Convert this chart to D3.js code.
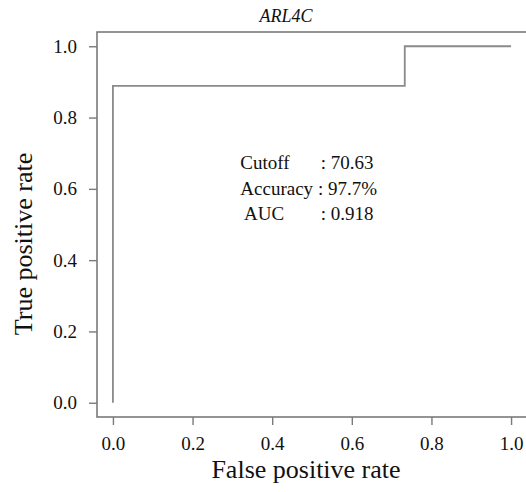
<!DOCTYPE html>
<html>
<head>
<meta charset="utf-8">
<script src="https://cdn.jsdelivr.net/npm/d3@7"></script>
<style>
  body { margin: 0; background: #fff; }
  svg text { font-family: "Liberation Serif", "Times New Roman", serif; fill: #111; }
</style>
</head>
<body>
<div id="vis"></div>
<script>
const width = 526;
const height = 492;

// ROC curve (step function)
const fpr = [0, 0, 0.733, 0.733, 1];
const tpr = [0, 0.889, 0.889, 1, 1];

const xTicks = [0, 0.2, 0.4, 0.6, 0.8, 1.0];
const yTicks = [0, 0.2, 0.4, 0.6, 0.8, 1.0];

const annoLabels = ["Cutoff", "Accuracy", " AUC"];
const annoValues = [": 70.63", ": 97.7%", ": 0.918"];

const svg = d3
  .select("#vis")
  .append("svg")
  .attr("width", width)
  .attr("height", height);

// R-style plot region: data range padded by 4%
const x = d3.scaleLinear().domain([-0.04, 1.04]).range([97, 527]);
const y = d3.scaleLinear().domain([-0.04, 1.04]).range([417, 32]);

// box
svg
  .append("rect")
  .attr("x", x(-0.04))
  .attr("y", y(1.04))
  .attr("width", x(1.04) - x(-0.04))
  .attr("height", y(-0.04) - y(1.04))
  .attr("fill", "none")
  .attr("stroke", "#7a7a7a")
  .attr("stroke-width", 1.6);

function styleAxis(g) {
  g.attr("font-family", null).attr("font-size", null);
  g.select(".domain").remove();
  g.selectAll("line").attr("stroke", "#7a7a7a").attr("stroke-width", 1.4);
  g.selectAll("text")
    .attr("fill", "#111")
    .style("font-family", '"Liberation Serif", serif')
    .style("font-size", "19px");
}

// x axis
const xAxis = d3
  .axisBottom(x)
  .tickValues(xTicks)
  .tickSize(8)
  .tickPadding(12)
  .tickFormat(d3.format(".1f"));

svg
  .append("g")
  .attr("transform", `translate(0,${y(-0.04)})`)
  .call(xAxis)
  .call(styleAxis);

// y axis
const yAxis = d3
  .axisLeft(y)
  .tickValues(yTicks)
  .tickSize(8)
  .tickPadding(12)
  .tickFormat(d3.format(".1f"));

svg
  .append("g")
  .attr("transform", `translate(${x(-0.04)},0)`)
  .call(yAxis)
  .call(styleAxis);

// ROC line
const line = d3
  .line()
  .x((d, i) => x(fpr[i]))
  .y((d, i) => y(tpr[i]));

svg
  .append("path")
  .datum(fpr)
  .attr("d", line)
  .attr("fill", "none")
  .attr("stroke", "#8a8a8a")
  .attr("stroke-width", 1.8);

// title
svg
  .append("text")
  .attr("x", 286)
  .attr("y", 22)
  .attr("text-anchor", "middle")
  .style("font-size", "18px")
  .style("font-style", "italic")
  .text("ARL4C");

// axis titles
svg
  .append("text")
  .attr("x", 306)
  .attr("y", 478)
  .attr("text-anchor", "middle")
  .style("font-size", "26px")
  .text("False positive rate");

svg
  .append("text")
  .attr("transform", "translate(32,244) rotate(-90)")
  .attr("text-anchor", "middle")
  .style("font-size", "26px")
  .text("True positive rate");

// annotation
const anno = svg.append("g").style("font-size", "19px");
annoLabels.forEach((lab, i) => {
  anno
    .append("text")
    .attr("x", x(0.32))
    .attr("y", 169 + i * 25.5)
    .style("white-space", "pre")
    .text(lab);
  anno
    .append("text")
    .attr("x", i === 1 ? x(0.515) : x(0.522))
    .attr("y", 169 + i * 25.5)
    .text(annoValues[i]);
});
</script>
</body>
</html>
